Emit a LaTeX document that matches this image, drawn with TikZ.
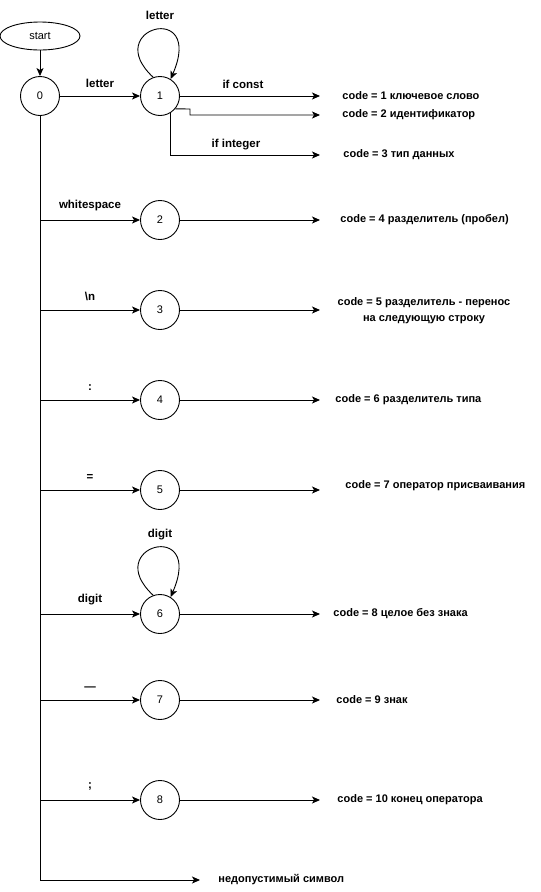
\documentclass[tikz,border=0pt]{standalone}
\usepackage{fontspec}
\setmainfont{Liberation Sans}
\usetikzlibrary{arrows.meta,shapes.geometric}
\begin{document}
\begin{tikzpicture}[x=1pt,y=-1pt,line width=0.9pt,
  state/.style={draw,circle,minimum size=39pt,inner sep=0pt,font=\fontsize{11}{13}\selectfont},
  lbl/.style={font=\bfseries\fontsize{11.5}{13}\selectfont,inner sep=0pt},
  outtxt/.style={font=\bfseries\fontsize{11}{16}\selectfont,inner sep=0pt,anchor=west},
  arr/.style={-{Stealth[length=8pt,width=7pt,inset=2pt]}}]
\useasboundingbox (0,0) rectangle (541,892);
\node[draw,ellipse,minimum width=80pt,minimum height=28pt,inner sep=0pt,font=\fontsize{11}{13}\selectfont] (start) at (40,36) {start};
\node[state] (n0) at (40,96) {0};
\node[state] (n1) at (160,96) {1};
\node[state] (n2) at (160,220) {2};
\node[state] (n3) at (160,310) {3};
\node[state] (n4) at (160,400) {4};
\node[state] (n5) at (160,490) {5};
\node[state] (n6) at (160,614) {6};
\node[state] (n7) at (160,700) {7};
\node[state] (n8) at (160,800) {8};
\draw[arr] (start) -- (n0);
\draw[arr] (n0) -- (n1) node[lbl,midway,above=8pt] {letter};
\draw[arr] (n1.110) .. controls (100,28) and (205,0) .. (n1.58);
\node[lbl] (l1loop) at (160,15) {letter};
% outputs of 1
\coordinate (e1) at (320,96);
\coordinate (e2) at (320,115);
\coordinate (e3) at (320,155);
\draw[arr] (n1) -- (e1) node[lbl,pos=0.45,above=7pt] {if const};
\draw[arr] (n1.-40) -- (190,109) -- (190,115) -- (e2);
\draw[arr] (n1.-60) |- (e3) node[lbl,pos=0.72,above=5pt] {if integer};
\node[outtxt] (t1) at (342,96) {code = 1 ключевое слово};
\node[outtxt] (t2) at (342,115) {code = 2 идентификатор};
\node[outtxt] (t3) at (343,155) {code = 3 тип данных};
% trunk
\coordinate (bend) at (40,880);
\coordinate (ebad) at (200,880);
\draw[arr] (n0) -- (bend) -- (ebad);
\node[outtxt] (tbad) at (218,880) {недопустимый символ};
% branches
\foreach \n/\y/\l in {2/220/whitespace,3/310/\textbackslash n,4/400/:,5/490/=,6/614/digit,7/700/—,8/800/;}{
  \coordinate (b\n) at (40,\y);
  \draw[arr] (b\n) -- (n\n) node[lbl,midway,above=9pt] {\l};
  \coordinate (o\n) at (320,\y);
  \draw[arr] (n\n) -- (o\n);
}
\node[outtxt] (t4) at (340,220) {code = 4 разделитель (пробел)};
\node[outtxt,align=center,anchor=center] (t5) at (424,311) {code = 5 разделитель - перенос\\на следующую строку};
\node[outtxt] (t6) at (335,400) {code = 6 разделитель типа};
\node[outtxt] (t7) at (345,486) {code = 7 оператор присваивания};
\node[outtxt] (t8) at (333,614) {code = 8 целое без знака};
\node[outtxt] (t9) at (336,700) {code = 9 знак};
\node[outtxt] (t10) at (337,800) {code = 10 конец оператора};
\draw[arr] (n6.110) .. controls (100,546) and (205,518) .. (n6.58);
\node[lbl] (l6loop) at (160,535) {digit};
\end{tikzpicture}
\end{document}
